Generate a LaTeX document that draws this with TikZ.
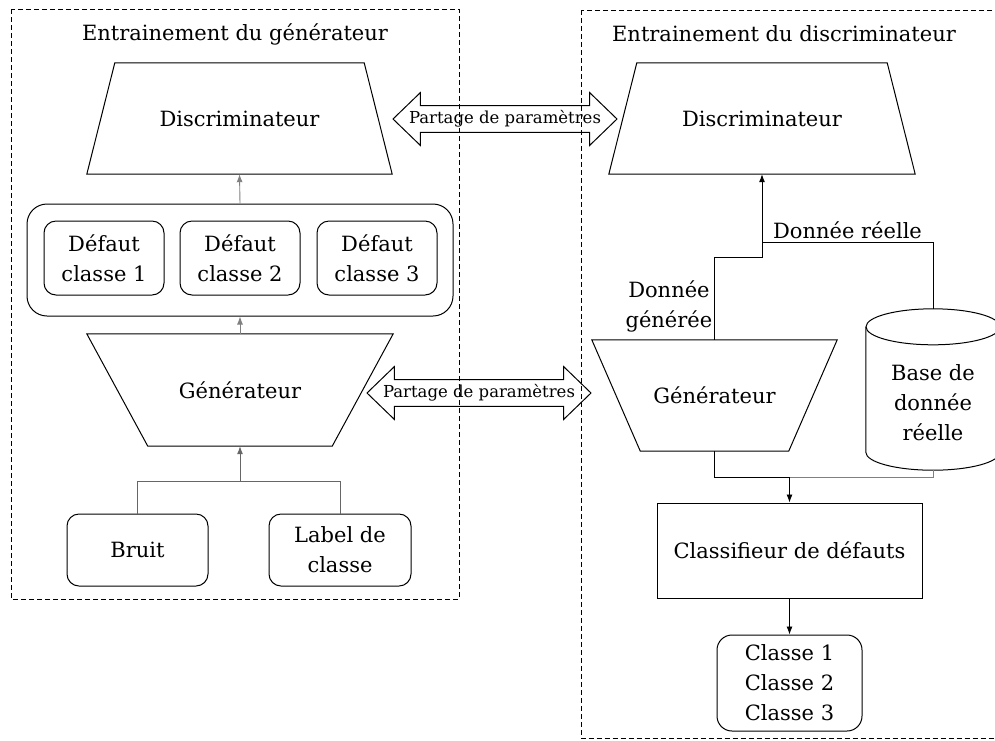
\documentclass[tikz,border=0pt]{standalone}
\usepackage{fontspec}
\setmainfont{DejaVu Serif}
\usepackage{tikz}
\usetikzlibrary{shapes.arrows,arrows.meta}
\tikzset{>={Latex[length=8pt,width=6pt]}}
\tikzset{
  cadre/.style={dashed,dash pattern=on 5pt off 3pt,line width=0.9pt},
  bloc/.style={draw,line width=1pt,rounded corners=12pt,align=center,inner sep=2pt},
  trapeze/.style={line width=1pt},
  partage/.style={double arrow,draw,line width=1pt,double arrow head extend=13pt,
    double arrow tip angle=88,inner xsep=0pt,inner ysep=4.5pt,minimum height=224pt,
    font=\fontsize{16.5}{18}\selectfont},
  fleche/.style={->,line width=0.9pt}
}

\begin{document}
\begin{tikzpicture}[x=1pt,y=-1pt,font=\fontsize{21}{30}\selectfont]
  \useasboundingbox (0,0) rectangle (995,740);
  % cadres
  \draw[cadre] (11,9) rectangle (459,599);
  \draw[cadre] (581,10) rectangle (1010,738.5);
  \node (titreG) at (235,34) {Entrainement du générateur};
  \node (titreD) at (784,34) {Entrainement du discriminateur};

  % entrainement du generateur
  \node[minimum width=305pt,minimum height=111pt] (discG) at (239.5,118.5) {Discriminateur};
  \draw[trapeze] ([xshift=28pt]discG.north west) -- ([xshift=-28pt]discG.north east)
    -- (discG.south east) -- (discG.south west) -- cycle;
  \node[bloc,rounded corners=20pt,minimum width=426pt,minimum height=112pt] (defauts) at (240,260) {};
  \node[bloc,minimum width=120pt,minimum height=74pt] (def1) at (104,258) {Défaut\\classe 1};
  \node[bloc,minimum width=120pt,minimum height=74pt] (def2) at (240,258) {Défaut\\classe 2};
  \node[bloc,minimum width=120pt,minimum height=74pt] (def3) at (377,258) {Défaut\\classe 3};
  \node[minimum width=306pt,minimum height=112pt] (genG) at (240,390) {Générateur};
  \draw[trapeze] (genG.north west) -- (genG.north east)
    -- ([xshift=-61pt]genG.south east) -- ([xshift=61pt]genG.south west) -- cycle;
  \node[bloc,minimum width=141pt,minimum height=72pt] (bruit) at (137.5,550) {Bruit};
  \node[bloc,minimum width=142pt,minimum height=72pt] (label) at (340,550) {Label de\\classe};
  \coordinate (mG) at (240,481);

  \draw[fleche,gray] (defauts.north) -- (discG.south);
  \draw[fleche,gray] (genG.north) -- (defauts.south);
  \draw[gray!80!black] (bruit.north) |- (mG) -| (label.north);
  \draw[fleche,gray!80!black] (mG) -- (genG.south);

  % partage des parametres
  \node[partage] (partH) at (505,119) {Partage de paramètres};
  \node[partage] (partB) at (479,393) {Partage de paramètres};

  % entrainement du discriminateur
  \node[minimum width=306pt,minimum height=111pt] (discD) at (762,118.5) {Discriminateur};
  \draw[trapeze] ([xshift=28pt]discD.north west) -- ([xshift=-28pt]discD.north east)
    -- (discD.south east) -- (discD.south west) -- cycle;
  \node[minimum width=245pt,minimum height=111pt] (genD) at (714.5,395.5) {Générateur};
  \draw[trapeze] (genD.north west) -- (genD.north east)
    -- ([xshift=-48.5pt]genD.south east) -- ([xshift=48.5pt]genD.south west) -- cycle;
  \node[minimum width=134pt,minimum height=161pt,inner sep=0pt,align=center] (base) at (933,389.5)
    {\rule{0pt}{42pt}Base de\\donnée\\réelle};
  \draw[trapeze] ([yshift=-18pt]base.north) ellipse [x radius=67pt,y radius=18pt];
  \draw[trapeze] ([yshift=-18pt]base.north west) -- ([yshift=18pt]base.south west)
    arc[start angle=180,end angle=360,x radius=67pt,y radius=18pt] -- ([yshift=-18pt]base.north east);
  \node[draw,line width=1pt,minimum width=265pt,minimum height=95pt] (classif) at (789.5,550.5) {Classifieur de défauts};
  \node[bloc,rounded corners=15pt,minimum width=145pt,minimum height=96pt] (classes) at (789.5,683) {Classe 1\\Classe 2\\Classe 3};
  \coordinate (jD) at (762,242);
  \coordinate (pasD) at (762,257);
  \coordinate (mD) at (789.5,477);

  \draw[fleche] (jD) -- (discD.south);
  \draw (genD.north) |- node[pos=0.2,left,align=center,inner sep=2pt] {Donnée\\générée} (pasD) -- (jD);
  \draw (base.north) |- node[pos=0.75,above,inner sep=3pt] {Donnée réelle} (jD);
  \draw (genD.south) |- (mD);
  \draw[gray] (mD) -| (base.south);
  \draw[fleche] (mD) -- (classif.north);
  \draw[fleche] (classif.south) -- (classes.north);
\end{tikzpicture}
\end{document}
